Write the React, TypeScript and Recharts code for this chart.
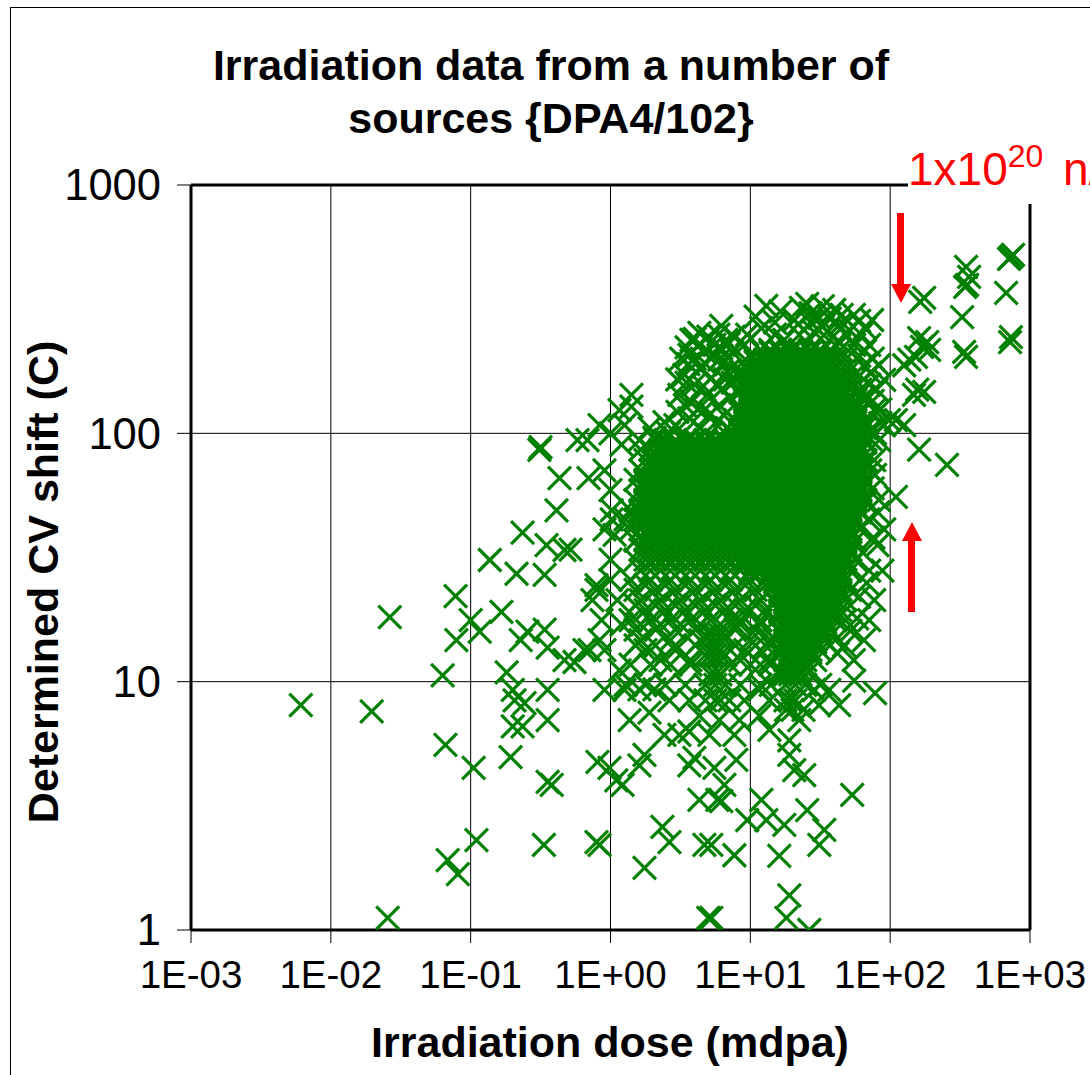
import React from "react";
import { ScatterChart, Scatter, XAxis, YAxis, CartesianGrid, ReferenceLine } from "recharts";

const xTicks = [0.001, 0.01, 0.1, 1, 10, 100, 1000];
const yTicks = [1, 10, 100, 1000];
const xTickLabels = ["1E-03", "1E-02", "1E-01", "1E+00", "1E+01", "1E+02", "1E+03"];

// [dose, shift] pairs: isolated marks on the low-dose tail
const lowTail: [number, number][] = [
  [0.0061, 8.05], [0.0196, 7.6], [0.0264, 18.2], [0.0255, 1.12], [0.063, 10.6], [0.066, 5.56], [0.0685, 1.91], [0.081, 1.68],
  [0.078, 22.1], [0.079, 14.7], [0.105, 4.5], [0.11, 2.3], [0.1, 17.7], [0.116, 15.9], [0.137, 30.9], [0.166, 19.1],
  [0.181, 10.9], [0.193, 4.97], [0.2, 9.26], [0.206, 8.4], [0.2, 6.6], [0.213, 27.2], [0.235, 39.8], [0.235, 6.6],
  [0.243, 8.2], [0.228, 14.7], [0.255, 15.9], [0.31, 85.7], [0.316, 88], [0.338, 16.2], [0.338, 26.9], [0.349, 35.5],
  [0.411, 49], [0.432, 66], [0.355, 13.7], [0.355, 9.26], [0.355, 7.0], [0.334, 2.2], [0.355, 3.95], [0.38, 3.84],
  [0.469, 33.9], [0.518, 34], [0.581, 94], [0.697, 66], [0.685, 94], [0.835, 108], [0.794, 23.4], [0.743, 21.3],
  [0.835, 2.2], [0.794, 2.26], [0.807, 4.75], [0.984, 4.5], [0.469, 12.2], [0.553, 12], [0.652, 13.4], [0.835, 14.7],
  [0.906, 13.4], [0.708, 13.4], [0.863, 17.7], [0.906, 9.26], [1.0, 31], [0.906, 41], [1.02, 45], [0.794, 24.5],
];

// isolated marks below the cloud
const belowCloud: [number, number][] = [
  [1.16, 11.1], [1.26, 9.26], [1.37, 7.0], [1.1, 4.0], [1.22, 3.84], [1.61, 4.6], [1.75, 5.07], [1.75, 1.78],
  [2.35, 2.6], [2.64, 2.26], [2.43, 6.1], [3.66, 4.6], [3.98, 4.93], [4.32, 3.34], [4.69, 2.2], [5.26, 2.2],
  [5.26, 1.12], [5.0, 1.12], [5.53, 4.5], [5.81, 3.34], [6.2, 3.3], [6.52, 3.84], [7.69, 2.0], [7.94, 4.84],
  [7.69, 6.1], [9.5, 2.77], [12, 3.34], [13, 2.77], [16.1, 1.99], [17.5, 2.65], [19, 1.38], [18.1, 1.12],
  [26.4, 1.0], [25.5, 3.04], [31.1, 2.2], [33.8, 2.53], [53.5, 3.5], [24.3, 4.2], [19, 5.07], [20.6, 4.4],
  [43.2, 8.05], [55.3, 10.1], [78, 9.0], [19, 5.8], [22.4, 7.0], [28.6, 9.26], [36.7, 9.26], [11.6, 7.3],
  [13.7, 6.4], [8.35, 7.0], [9.06, 8.4], [6.0, 7.0], [4.32, 7.3], [3.66, 6.3], [3.11, 6.1], [5.1, 6.1],
  [2.64, 8.4], [1.9, 7.5], [1.61, 9.3], [2.06, 9.3], [3.66, 8.4], [7.08, 8.4], [11.6, 9.3], [13.7, 8.4], [31, 8.05],
  [5.18, 10.7], [5.62, 10.7], [6.11, 10.7], [16.4, 10.7], [17.8, 10.7], [19.3, 10.7], [21, 10.7], [22.8, 10.7],
  [4.77, 12.8], [5.18, 12.8], [5.62, 12.8], [6.11, 12.8], [6.63, 12.8],
  [4.77, 15.4], [5.18, 15.4], [5.62, 15.4], [6.11, 15.4], [6.63, 15.4],
  [1.39, 11.7], [1.93, 11.7], [2.68, 11.7], [3.73, 11.7], [7.2, 11.7], [10, 11.7], [11.8, 11.7], [13.9, 11.7],
  [1.28, 9.7], [1.78, 9.7], [2.47, 9.7], [3.43, 9.7], [4.77, 9.7], [5.62, 9.7], [6.63, 9.7], [8.48, 9.7],
  [11.8, 9.7], [14, 9.7], [17.8, 9.7], [21, 9.7], [24.7, 9.7], [31.6, 9.7],
  [4.77, 8.4], [5.62, 8.4], [6.11, 8.4], [17.8, 8.4], [19.3, 8.4], [21, 8.4], [18, 7.7], [20, 7.7], [24, 7.7],
];

// criss-cross region under the left part of the cloud
const lowerLeft: [number, number][] = [
  [1.78, 24.5], [2.47, 24.5], [3.43, 24.5], [4.77, 24.5], [6.63, 24.5], [9.21, 24.5], [12.8, 24.5],
  [1.51, 20.3], [2.1, 20.3], [2.91, 20.3], [4.05, 20.3], [5.62, 20.3], [7.81, 20.3], [10.9, 20.3],
  [1.64, 17], [2.28, 17], [3.16, 17], [4.39, 17], [6.11, 17], [8.48, 17], [11.8, 17],
  [1.51, 14], [2.1, 14], [2.91, 14], [4.05, 14], [5.62, 14], [7.81, 14], [10.9, 14], [12.8, 14],
  [1.39, 25.7], [1.93, 25.7], [2.68, 25.7], [3.73, 25.7], [5.18, 25.7], [7.2, 25.7], [10, 25.7],
  [1.51, 23.4], [2.1, 23.4], [2.91, 23.4], [4.05, 23.4], [5.62, 23.4], [7.81, 23.4], [10.9, 23.4],
  [1.64, 21.3], [2.28, 21.3], [3.16, 21.3], [4.39, 21.3], [6.11, 21.3], [8.48, 21.3], [11.8, 21.3],
  [1.78, 19.4], [2.47, 19.4], [3.43, 19.4], [4.77, 19.4], [6.63, 19.4], [9.21, 19.4], [12.8, 19.4],
  [1.39, 17.7], [1.93, 17.7], [2.68, 17.7], [3.73, 17.7], [5.18, 17.7], [7.2, 17.7], [8.48, 17.7], [11.8, 17.7],
  [1.51, 16.2], [2.1, 16.2], [2.91, 16.2], [4.05, 16.2], [7.81, 16.2], [10.9, 16.2],
  [1.64, 14.7], [2.68, 14.7], [4.39, 14.7], [10, 14.7], [13.9, 14.7],
  [1.78, 13.4], [2.91, 13.4], [9.21, 13.4], [15.1, 13.4],
  [2.28, 12.2], [3.73, 12.2], [8.48, 12.2], [13.9, 12.2],
];

// upper-left lobe and marks around the top-left edge of the cloud
const upperLeft: [number, number][] = [
  [3.79, 238], [4.32, 254], [6.2, 271], [6.74, 238], [5.53, 227], [9.06, 227], [3.66, 207], [4.69, 213],
  [3.38, 172], [4.32, 183], [6.0, 198], [7.43, 213], [3.11, 143], [3.98, 157], [5.26, 167], [6.85, 177],
  [3.01, 122], [3.79, 134], [4.93, 143], [6.2, 150], [2.91, 108], [3.66, 115], [4.69, 124], [6.0, 130],
  [1.9, 105], [2.43, 111], [1.61, 94], [2.06, 96], [1.41, 143], [1.41, 128], [1.16, 124], [1.26, 108],
  [1.0, 100], [1.2, 90], [0.906, 71], [1.0, 59], [1.02, 49], [1.07, 39], [1.0, 25.7], [1.12, 21.3], [1.2, 17],
  [3.2, 200], [3.6, 190], [4.0, 200], [4.8, 190], [5.4, 205], [6.6, 195], [3, 165], [3.5, 160], [4.6, 155],
  [5.8, 158], [6.6, 165], [7.5, 160], [3.4, 130], [4.2, 125], [5.2, 120], [6.5, 118], [7.2, 140], [5.6, 110],
  [4.4, 105], [3.3, 100], [6.8, 105], [4.0, 240], [5, 245], [5.9, 250], [7.6, 245], [3.5, 222], [4.2, 225],
  [6.2, 220], [7, 230], [2.6, 100], [3.1, 90], [3.8, 92], [5, 98], [6, 92],
];

// marks along the top and right edges of the cloud
const upperRight: [number, number][] = [
  [13, 326], [25.5, 332], [31.1, 292], [39.8, 314], [60, 284], [74.3, 286], [51, 261], [20.6, 286],
  [22.4, 249], [17.5, 238], [43.2, 273], [28.6, 256], [35.5, 256], [70.8, 227], [55.3, 227], [83, 188],
  [65, 188], [90.6, 164], [70.8, 157], [76.9, 124], [98, 113], [110, 113], [90.6, 108], [126, 108],
  [83.4, 94], [76.9, 78], [110, 55.5], [90.6, 41], [88, 28], [76.9, 21.3], [70.8, 17.7], [65, 14.7],
  [55, 12.2], [83, 54], [161, 86], [255, 74.6], [70.8, 28], [81, 35.5],
  [10.9, 295], [15, 280], [16.4, 310], [23, 320], [27, 305], [33, 325], [37, 290], [45, 300], [48, 250],
  [62, 250], [66, 265], [55, 300], [12, 265], [15, 250], [9.5, 250], [22, 275], [27, 280], [31, 260], [39, 245],
  [44, 232], [60, 205], [66, 215], [75, 200], [72, 175], [80, 150], [65, 140], [75, 135], [85, 125], [60, 122],
  [66, 105], [78, 100], [85, 110], [72, 95], [78, 68], [75, 60], [82, 48], [70, 45], [76, 38], [64, 33], [68, 25],
  [60, 22], [58, 18], [52, 16], [47, 14], [42, 13],
];

// high-dose group to the right of the 1E+02 gridline
const highDose: [number, number][] = [
  [148, 143], [175, 147], [156, 150], [137, 198], [126, 188], [164, 338], [175, 351], [161, 242],
  [169, 223], [153, 203], [184, 233], [190, 217], [349, 468], [367, 427], [355, 396], [344, 389],
  [327, 294], [349, 203], [338, 213], [731, 513], [757, 523], [708, 504], [675, 368], [731, 244], [720, 233],
];

// the saturated part of the cloud cannot be read mark by mark: it is estimated as
// bands [shift, which dose list, lowest dose, highest dose]
const dosesA = [1.18, 1.39, 1.64, 1.93, 2.28, 2.68, 3.16, 3.73, 4.39, 5.18, 6.11, 7.2, 8.48, 10, 11.8, 13.9, 16.4, 19.3, 22.8, 26.8, 31.6, 37.3, 43.9, 51.8, 61.1, 72];
const dosesB = [1.28, 1.51, 1.78, 2.1, 2.47, 2.91, 3.43, 4.05, 4.77, 5.62, 6.63, 7.81, 9.21, 10.9, 12.8, 15.1, 17.8, 21, 24.7, 29.1, 34.3, 40.5, 47.7, 56.2, 66.3];

const cloudBands: [number, number[], number, number][] = [
  [217, dosesA, 11.8, 43.9], [198, dosesB, 9.21, 47.7], [180, dosesA, 8.48, 51.8], [164, dosesB, 7.81, 56.2],
  [150, dosesA, 8, 61.1], [136, dosesB, 8, 66.3], [124, dosesA, 8, 61.1], [113, dosesB, 7.8, 66.3],
  [103, dosesA, 7.2, 72], [94, dosesB, 2.1, 66.3], [86, dosesA, 1.64, 61.1], [78, dosesB, 1.78, 66.3],
  [71, dosesA, 1.64, 72], [65, dosesB, 1.51, 66.3], [59, dosesA, 1.64, 61.1], [54, dosesB, 1.51, 66.3],
  [49, dosesA, 1.39, 61.1], [45, dosesB, 1.28, 56.2], [41, dosesA, 1.39, 61.1], [37, dosesB, 1.51, 56.2],
  [34, dosesA, 1.64, 51.8], [31, dosesB, 1.51, 56.2], [28, dosesA, 1.64, 51.8],
  [25.7, dosesB, 12, 47.7], [23.4, dosesA, 13, 51.8], [21.3, dosesB, 14, 47.7], [19.4, dosesA, 15, 43.9],
  [17.7, dosesB, 15, 47.7], [16.2, dosesA, 15, 37.3], [14.7, dosesB, 15, 40.5], [13.4, dosesA, 16, 31.6],
  [12.2, dosesB, 17, 29.1], [11.1, dosesA, 16, 26.8],
  // second pass over the densest part
  [212, dosesA, 13.9, 31.6], [193.6, dosesB, 10.9, 34.3], [176, dosesA, 8.48, 37.3], [160, dosesB, 8, 40.5],
  [146.5, dosesA, 8, 43.9], [133, dosesB, 8, 47.7], [121, dosesA, 8, 51.8], [110.5, dosesB, 8, 56.2],
  [100.7, dosesA, 8, 61.1], [91.8, dosesB, 2.8, 66.3], [84, dosesA, 2.28, 61.1], [76.4, dosesB, 2.1, 66.3],
  [69.5, dosesA, 2.28, 61.1], [63.5, dosesB, 1.78, 66.3], [57.7, dosesA, 1.93, 61.1], [52.8, dosesB, 1.78, 66.3],
  [48, dosesA, 1.64, 61.1], [44, dosesB, 1.78, 56.2], [40, dosesA, 1.93, 51.8], [36.2, dosesB, 2.1, 47.7],
  [33.2, dosesA, 8, 51.8], [30.3, dosesB, 9, 47.7], [27.4, dosesA, 10, 43.9], [25.1, dosesB, 14, 40.5],
  [22.9, dosesA, 15, 43.9], [20.8, dosesB, 15, 37.3], [19, dosesA, 16, 37.3], [17.3, dosesB, 17, 34.3],
  [15.8, dosesA, 16, 31.6], [14.4, dosesB, 17, 29.1], [13.1, dosesA, 16.4, 26.8],
];

const toPoint = ([dose, shift]: [number, number]) => ({ dose, shift });
const scatterData = [
  ...lowTail.map(toPoint),
  ...belowCloud.map(toPoint),
  ...lowerLeft.map(toPoint),
  ...upperLeft.map(toPoint),
  ...upperRight.map(toPoint),
  ...highDose.map(toPoint),
  ...cloudBands.flatMap(([shift, list, lo, hi]) =>
    list.filter((dose) => dose >= lo && dose <= hi).map((dose) => ({ dose, shift }))
  ),
];

const GREEN = "#008000";
const FONT = '"Liberation Sans", Arial, sans-serif';

const XMark = (props: any) => {
  const { cx, cy } = props;
  const r = 11.5;
  return (
    <g stroke={GREEN} strokeWidth={3.2} fill="none">
      <line x1={cx - r} y1={cy - r} x2={cx + r} y2={cy + r} />
      <line x1={cx - r} y1={cy + r} x2={cx + r} y2={cy - r} />
    </g>
  );
};

export default function App() {
  return (
    <div style={{ position: "absolute", left: 0, top: 0, width: 1090, height: 1075, overflow: "hidden", background: "#fff" }}>
      <div style={{ position: "absolute", left: 10, top: 7, width: 1300, height: 1300, border: "1px solid #000" }} />
      <div style={{ position: "absolute", left: 0, top: 0 }}>
        <ScatterChart width={1090} height={1075} margin={{ top: 185, right: 60, bottom: 115, left: 31 }}>
          <CartesianGrid stroke="#000" strokeWidth={1} />
          <XAxis
            type="number"
            dataKey="dose"
            scale="log"
            domain={[0.001, 1000]}
            ticks={xTicks}
            interval={0}
            allowDataOverflow
            tickFormatter={(v: number) => xTickLabels[xTicks.indexOf(v)]}
            tick={{ fontSize: 38.5, fontFamily: FONT, fill: "#000" }}
            tickSize={13}
            tickMargin={18}
            axisLine={{ stroke: "#000", strokeWidth: 3 }}
            tickLine={{ stroke: "#000", strokeWidth: 1 }}
            height={30}
          />
          <YAxis
            type="number"
            dataKey="shift"
            scale="log"
            domain={[1, 1000]}
            ticks={yTicks}
            interval={0}
            allowDataOverflow
            tick={{ fontSize: 43.5, fontFamily: FONT, fill: "#000" }}
            tickSize={14}
            tickMargin={16}
            axisLine={{ stroke: "#000", strokeWidth: 3 }}
            tickLine={{ stroke: "#000", strokeWidth: 1 }}
            width={160}
          />
          <ReferenceLine y={1000} stroke="#000" strokeWidth={3} />
          <ReferenceLine x={1000} stroke="#000" strokeWidth={3} />
          <Scatter data={scatterData} isAnimationActive={false} shape={XMark} />
        </ScatterChart>
      </div>
      <svg width={1090} height={1075} style={{ position: "absolute", left: 0, top: 0, fontFamily: FONT }}>
        <rect x={908} y={140} width={182} height={64} fill="#fff" />
        <text x={551} y={80} textAnchor="middle" fontSize={43} fontWeight="bold" fill="#000">Irradiation data from a number of</text>
        <text x={551} y={133} textAnchor="middle" fontSize={43} fontWeight="bold" fill="#000">sources {"{DPA4/102}"}</text>
        <text x={610} y={1057} textAnchor="middle" fontSize={43} fontWeight="bold" fill="#000">Irradiation dose (mdpa)</text>
        <text transform="translate(58,582) rotate(-90)" textAnchor="middle" fontSize={43} fontWeight="bold" fill="#000">Determined CV shift (C)</text>
        <text x={908} y={185} fontSize={46} fill="#ff0000">1x10<tspan fontSize={32} dy={-18}>20</tspan><tspan dy={18} dx={7}> n/cm</tspan></text>
        <rect x={897} y={213} width={7} height={72} fill="#ff0000" />
        <polygon points="891,284 911,284 901,303" fill="#ff0000" />
        <rect x={908} y={540} width={7} height={72} fill="#ff0000" />
        <polygon points="902,541 922,541 912,522" fill="#ff0000" />
      </svg>
    </div>
  );
}
